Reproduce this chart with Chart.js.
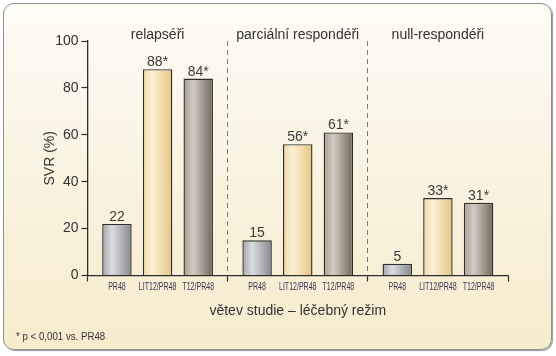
<!DOCTYPE html>
<html><head><meta charset="utf-8">
<script src="https://cdn.jsdelivr.net/npm/chart.js@4.4.1/dist/chart.umd.min.js"></script>
<style>
html,body{margin:0;padding:0;background:#fff;}
#wrap{position:relative;width:556px;height:356px;}
#panel{position:absolute;left:3px;top:3px;width:547px;height:345px;border:1.3px solid #8e8e8e;border-radius:11px;
background:linear-gradient(to bottom,#fdfbf5 0%,#f9f2de 55%,#f6ebcd 100%);box-shadow:1px 1px 1px #9a9a9a;}
#c{position:absolute;left:0;top:0;}
</style></head>
<body><div id="wrap"><div id="panel"></div><canvas id="c" width="556" height="356"></canvas></div>
<script>
const groups = ['relapséři', 'parciální respondéři', 'null-respondéři'];
const armLabels = ['PR48', 'LIT12/PR48', 'T12/PR48'];
const pr48 = [22, 15, 5];
const lit12 = [88, 56, 33];
const t12 = [84, 61, 31];
const valueLabels = [['22','15','5'], ['88*','56*','33*'], ['84*','61*','31*']];
const yTicks = [0, 20, 40, 60, 80, 100];
const footnote = '* p < 0,001 vs. PR48';

const flatColors = ['#b8babe', '#f5dfb0', '#a89b8f'];
const gradStops = [
  [[0,'#a2a4aa'],[0.33,'#dcdde1'],[1,'#85878e']],
  [[0,'#f0d8a6'],[0.33,'#fcf0d4'],[1,'#e6c380']],
  [[0,'#a89c90'],[0.33,'#d3ccc4'],[1,'#74665a']]
];

const barGradient = {
  id:'barGradient',
  beforeDatasetsDraw(chart){
    const ctx = chart.ctx;
    chart.data.datasets.forEach((ds, di) => {
      chart.getDatasetMeta(di).data.forEach(el => {
        const x0 = el.x - el.width/2, x1 = el.x + el.width/2;
        const g = ctx.createLinearGradient(x0,0,x1,0);
        gradStops[di].forEach(s => g.addColorStop(s[0], s[1]));
        const o = el.options;
        el.options = {
          backgroundColor: g,
          borderColor: o.borderColor,
          borderWidth: o.borderWidth,
          borderSkipped: o.borderSkipped,
          borderRadius: o.borderRadius,
          inflateAmount: o.inflateAmount,
          pointStyle: o.pointStyle
        };
      });
    });
  }
};

function drawCondensed(ctx, text, x, y, sx){
  ctx.save();
  ctx.translate(x, y);
  ctx.scale(sx, 1);
  ctx.fillText(text, 0, 0);
  ctx.restore();
}

const labelsPlugin = {
  id:'labelsPlugin',
  afterDraw(chart){
    const ctx = chart.ctx;
    const xs = chart.scales.x;
    const area = chart.chartArea;
    ctx.save();
    // value labels
    ctx.fillStyle = '#3c3c3c';
    ctx.font = '14px "Liberation Sans", Arial, sans-serif';
    ctx.textAlign = 'center';
    ctx.textBaseline = 'alphabetic';
    chart.data.datasets.forEach((ds, di) => {
      chart.getDatasetMeta(di).data.forEach((el, i) => {
        ctx.fillText(valueLabels[di][i], el.x, el.y - 3);
      });
    });
    // arm labels under bars (condensed)
    ctx.fillStyle = '#3b3452';
    ctx.font = '11px "Liberation Sans", Arial, sans-serif';
    ctx.textBaseline = 'middle';
    chart.data.datasets.forEach((ds, di) => {
      chart.getDatasetMeta(di).data.forEach((el) => {
        drawCondensed(ctx, armLabels[di], el.x, area.bottom + 11, 0.64);
      });
    });
    // group names
    ctx.fillStyle = '#333';
    ctx.font = '14px "Liberation Sans", Arial, sans-serif';
    groups.forEach((g, i) => {
      ctx.fillText(g, xs.getPixelForValue(i), 35);
    });
    // footnote
    ctx.textAlign = 'left';
    ctx.font = '10px "Liberation Sans", Arial, sans-serif';
    ctx.fillStyle = '#333';
    drawCondensed(ctx, footnote, 16, 337, 0.97);
    ctx.restore();
  }
};

new Chart(document.getElementById('c'), {
  type:'bar',
  data:{
    labels: groups,
    datasets:[
      {label: armLabels[0], data: pr48, backgroundColor: flatColors[0], borderColor:'#2e2e2e', borderWidth:1.4},
      {label: armLabels[1], data: lit12, backgroundColor: flatColors[1], borderColor:'#2e2e2e', borderWidth:1.4},
      {label: armLabels[2], data: t12, backgroundColor: flatColors[2], borderColor:'#2e2e2e', borderWidth:1.4}
    ]
  },
  options:{
    responsive:false,
    animation:false,
    devicePixelRatio:1,
    layout:{padding:{left:42,right:48,top:41,bottom:20}},
    datasets:{bar:{categoryPercentage:0.87,barPercentage:0.725,borderSkipped:'bottom'}},
    plugins:{legend:{display:false},tooltip:{enabled:false},colors:{enabled:false}},
    scales:{
      x:{
        afterFit(s){ s.height = 60.5; },
        ticks:{display:false},
        grid:{offset:true,drawOnChartArea:true,
          color:(c)=> (c.index===1||c.index===2) ? '#7a7a7a' : 'rgba(0,0,0,0)',
          lineWidth:1,tickLength:6,tickColor:'#2e2e2e',tickWidth:1.2},
        border:{display:true,color:'#2e2e2e',width:1.3,dash:[5,4]},
        title:{display:true,text:'větev studie – léčebný režim',color:'#333',
          font:{family:'"Liberation Sans", Arial, sans-serif',size:14},padding:{top:0,bottom:16}}
      },
      y:{
        min:0,max:100,
        afterFit(s){ s.width = 45.5; },
        afterBuildTicks(s){ s.ticks = yTicks.map(v=>({value:v})); },
        ticks:{color:'#333',font:{family:'"Liberation Sans", Arial, sans-serif',size:14},padding:3},
        grid:{drawOnChartArea:false,tickLength:6,tickColor:'#2e2e2e',tickWidth:1.2},
        border:{display:true,color:'#2e2e2e',width:1.3},
        title:{display:true,text:'SVR (%)',color:'#333',
          font:{family:'"Liberation Sans", Arial, sans-serif',size:14},padding:{top:0,bottom:0}}
      }
    }
  },
  plugins:[barGradient,labelsPlugin]
});
</script></body></html>
